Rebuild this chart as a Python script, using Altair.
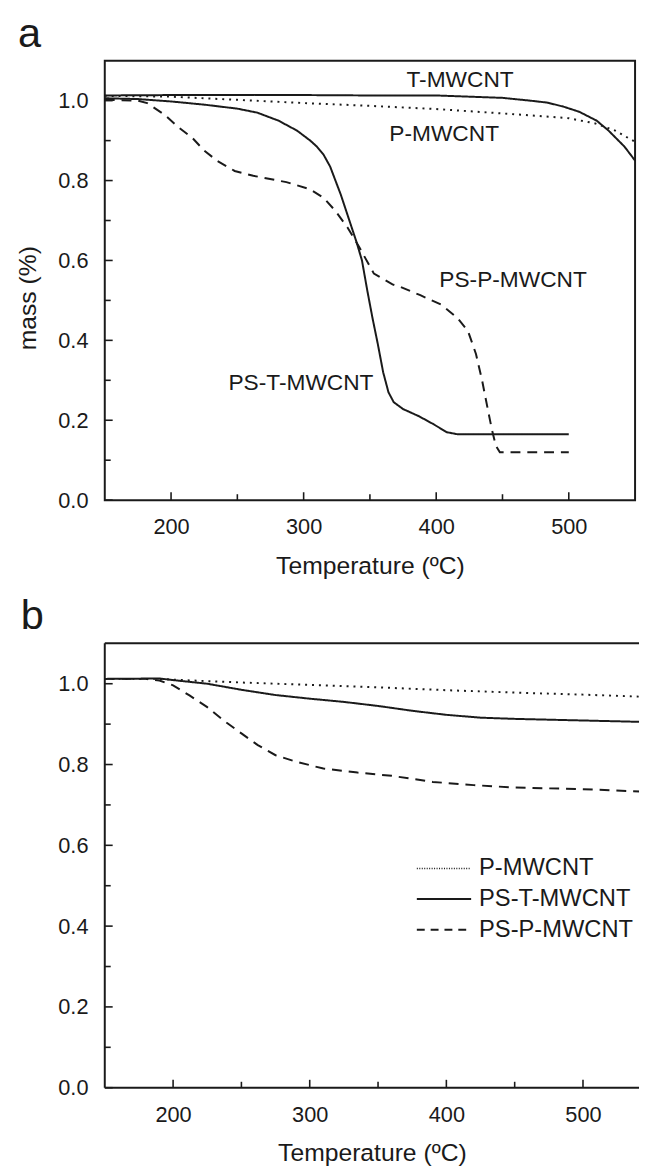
import altair as alt
import pandas as pd

FONT = "Liberation Sans"
INK = "#1a1a1a"

# ---------------- Panel a data ----------------
a_tm_T = [150, 200, 250, 300, 350, 400, 450, 471, 484, 496, 508, 521, 530, 542, 550]
a_tm_m = [1.013, 1.014, 1.014, 1.014, 1.013, 1.013, 1.007, 1.0, 0.995, 0.985, 0.972, 0.95, 0.925, 0.885, 0.85]

a_pm_T = [150, 200, 250, 300, 350, 400, 450, 480, 500, 520, 535, 550]
a_pm_m = [1.012, 1.01, 1.002, 0.994, 0.987, 0.979, 0.968, 0.961, 0.956, 0.943, 0.925, 0.897]

a_pst_T = [150, 175, 200, 225, 250, 265, 281, 295, 305, 310, 315, 320, 324, 328, 332, 336, 340,
           344, 348, 352, 356, 360, 364, 368, 375, 387, 398, 408, 416, 500]
a_pst_m = [1.006, 1.004, 0.998, 0.99, 0.98, 0.97, 0.95, 0.925, 0.9, 0.885, 0.865, 0.835, 0.8,
           0.765, 0.725, 0.685, 0.645, 0.6, 0.525, 0.455, 0.39, 0.32, 0.27, 0.245, 0.228, 0.21,
           0.19, 0.17, 0.165, 0.165]

a_psp_T = [150, 175, 182, 195, 205, 216, 225, 235, 248, 262, 287, 305, 315, 324, 333, 342, 353, 367,
           373, 388, 404, 416, 424, 430, 434.6, 439, 442, 445, 448, 500]
a_psp_m = [1.002, 1.0, 0.994, 0.965, 0.935, 0.907, 0.875, 0.849, 0.824, 0.812, 0.796, 0.778, 0.757,
           0.724, 0.683, 0.633, 0.567, 0.54, 0.534, 0.513, 0.489, 0.456, 0.423, 0.366, 0.3, 0.226,
           0.177, 0.136, 0.12, 0.12]

a_series = ["T-MWCNT", "P-MWCNT", "PS-T-MWCNT", "PS-P-MWCNT"]
a_dash = [[1, 0], [2, 5], [1, 0], [10, 7]]

a_lbl_text = ["T-MWCNT", "P-MWCNT", "PS-P-MWCNT", "PS-T-MWCNT"]
a_lbl_T = [418, 406, 458, 298]
a_lbl_m = [1.052, 0.917, 0.55, 0.293]

# ---------------- Panel b data ----------------
b_pm_T = [150, 190, 200, 250, 300, 350, 400, 450, 500, 550]
b_pm_m = [1.012, 1.012, 1.01, 1.003, 0.997, 0.991, 0.984, 0.978, 0.973, 0.967]

b_pst_T = [150, 190, 200, 225, 250, 275, 300, 325, 350, 375, 400, 425, 450, 500, 550]
b_pst_m = [1.012, 1.013, 1.009, 1.0, 0.985, 0.972, 0.963, 0.955, 0.945, 0.933, 0.923, 0.916,
           0.913, 0.909, 0.905]

b_psp_T = [150, 180, 190, 200, 212, 225, 237, 250, 262, 275, 290, 310, 335, 360, 390, 420, 450, 500, 550]
b_psp_m = [1.012, 1.012, 1.008, 0.996, 0.971, 0.942, 0.909, 0.877, 0.848, 0.823, 0.807, 0.79,
           0.78, 0.772, 0.757, 0.749, 0.743, 0.739, 0.732]

b_series = ["P-MWCNT", "PS-T-MWCNT", "PS-P-MWCNT"]
b_dash = [[1, 1.5], [1, 0], [8, 6]]
b_width = [1.5, 2.0, 2.0]

# ticks
x_major = [200, 300, 400, 500]
x_minor = [250, 350, 450]
y_major = [0.0, 0.2, 0.4, 0.6, 0.8, 1.0]
y_minor = [0.1, 0.3, 0.5, 0.7, 0.9]


def long_df(pairs, names):
    rows = []
    for (ts, ms), n in zip(pairs, names):
        for t, m in zip(ts, ms):
            rows.append({"T": t, "m": m, "series": n})
    return pd.DataFrame(rows)


df_a = long_df([(a_tm_T, a_tm_m), (a_pm_T, a_pm_m), (a_pst_T, a_pst_m), (a_psp_T, a_psp_m)], a_series)
df_b = long_df([(b_pm_T, b_pm_m), (b_pst_T, b_pst_m), (b_psp_T, b_psp_m)], b_series)
df_lbl = pd.DataFrame({"text": a_lbl_text, "T": a_lbl_T, "m": a_lbl_m})

XSCALE_A = alt.Scale(domain=[150, 550], nice=False, zero=False)
XSCALE_B = alt.Scale(domain=[150, 541], nice=False, zero=False)
YSCALE = alt.Scale(domain=[0, 1.1], nice=False, zero=True)

X_AXIS = alt.Axis(values=x_major, title="Temperature (ºC)", labelPadding=17, titlePadding=16)


def y_axis(title):
    kw = dict(values=y_major, format=".1f", labelPadding=17)
    if title:
        kw.update(title=title, titlePadding=18, titleY=240)
    else:
        kw.update(title=None)
    return alt.Axis(**kw)


def one():
    return pd.DataFrame({"k": [0]})


def tick_layers(W, H, xs):
    xt_major = alt.Chart(pd.DataFrame({"T": x_major})).mark_rule(color=INK, strokeWidth=1.6).encode(
        x=alt.X("T:Q", scale=xs), y=alt.value(H), y2=alt.value(H - 8))
    xt_minor = alt.Chart(pd.DataFrame({"T": x_minor})).mark_rule(color=INK, strokeWidth=1.6).encode(
        x=alt.X("T:Q", scale=xs), y=alt.value(H), y2=alt.value(H - 6))
    yt_major = alt.Chart(pd.DataFrame({"m": y_major})).mark_rule(color=INK, strokeWidth=1.6).encode(
        y=alt.Y("m:Q", scale=YSCALE), x=alt.value(0), x2=alt.value(8))
    yt_minor = alt.Chart(pd.DataFrame({"m": y_minor})).mark_rule(color=INK, strokeWidth=1.6).encode(
        y=alt.Y("m:Q", scale=YSCALE), x=alt.value(0), x2=alt.value(6))
    return [xt_major, xt_minor, yt_major, yt_minor]


def frame_rules(W, H):
    # top, left and bottom border lines (right side is cut off in panel b)
    top = alt.Chart(one()).mark_rule(color=INK, strokeWidth=2).encode(
        x=alt.value(0), x2=alt.value(W), y=alt.value(0))
    bottom = alt.Chart(one()).mark_rule(color=INK, strokeWidth=2).encode(
        x=alt.value(0), x2=alt.value(W), y=alt.value(H))
    left = alt.Chart(one()).mark_rule(color=INK, strokeWidth=2).encode(
        x=alt.value(0), y=alt.value(0), y2=alt.value(H))
    return [top, bottom, left]


def legend_layers(x0, y0, row_h, names, dashes, widths):
    layers = []
    for i, (n, d, w) in enumerate(zip(names, dashes, widths)):
        yy = y0 + i * row_h
        layers.append(alt.Chart(one()).mark_rule(color=INK, strokeWidth=w, strokeDash=d).encode(
            x=alt.value(x0), x2=alt.value(x0 + 55), y=alt.value(yy)))
        layers.append(alt.Chart(one()).mark_text(font=FONT, fontSize=24, color=INK, align="left",
                                                 baseline="middle").encode(
            x=alt.value(x0 + 63), y=alt.value(yy), text=alt.value(n)))
    return layers


TITLE_KW = dict(anchor="start", frame="group", offset=5, fontSize=42, font=FONT,
                fontWeight="normal", color=INK)

# ---------------- Panel a ----------------
WA, HA = 537, 445
lines_a = alt.Chart(df_a).mark_line(color=INK, strokeWidth=2).encode(
    x=alt.X("T:Q", scale=XSCALE_A, axis=X_AXIS),
    y=alt.Y("m:Q", scale=YSCALE, axis=y_axis("mass (%)")),
    strokeDash=alt.StrokeDash("series:N", scale=alt.Scale(domain=a_series, range=a_dash), legend=None),
    detail="series:N",
)
labels_a = alt.Chart(df_lbl).mark_text(font=FONT, fontSize=23, color=INK).encode(
    x=alt.X("T:Q", scale=XSCALE_A), y=alt.Y("m:Q", scale=YSCALE), text="text:N")

panel_a = alt.layer(lines_a, labels_a, *tick_layers(WA, HA, XSCALE_A)).properties(
    width=WA, height=HA,
    view=alt.ViewBackground(stroke=INK, strokeWidth=2),
    title=alt.TitleParams("a", dx=-88, **TITLE_KW),
)

# ---------------- Panel b ----------------
WB, HB = 541, 450
lines_b = alt.Chart(df_b).mark_line(color=INK, strokeWidth=2, clip=True).encode(
    x=alt.X("T:Q", scale=XSCALE_B, axis=X_AXIS),
    y=alt.Y("m:Q", scale=YSCALE, axis=y_axis(None)),
    strokeDash=alt.StrokeDash("series:N", scale=alt.Scale(domain=b_series, range=b_dash), legend=None),
    strokeWidth=alt.StrokeWidth("series:N", scale=alt.Scale(domain=b_series, range=b_width), legend=None),
    detail="series:N",
)
panel_b = alt.layer(lines_b, *frame_rules(WB, HB), *tick_layers(WB, HB, XSCALE_B),
                    *legend_layers(316, 228, 31, b_series, b_dash, b_width)).properties(
    width=WB, height=HB,
    view=alt.ViewBackground(stroke=None),
    title=alt.TitleParams("b", dx=-85, **TITLE_KW),
)

chart = alt.vconcat(panel_a, panel_b, spacing=16).properties(
    padding={"left": 6, "top": -3, "right": 0, "bottom": 0}
).configure_axis(
    labelFont=FONT, labelFontSize=22, labelColor=INK,
    titleFont=FONT, titleFontSize=25, titleFontWeight="normal", titleColor=INK,
    grid=False, domain=False, ticks=False,
)

chart.save("out.html", embed_options={"renderer": "svg", "actions": False})
